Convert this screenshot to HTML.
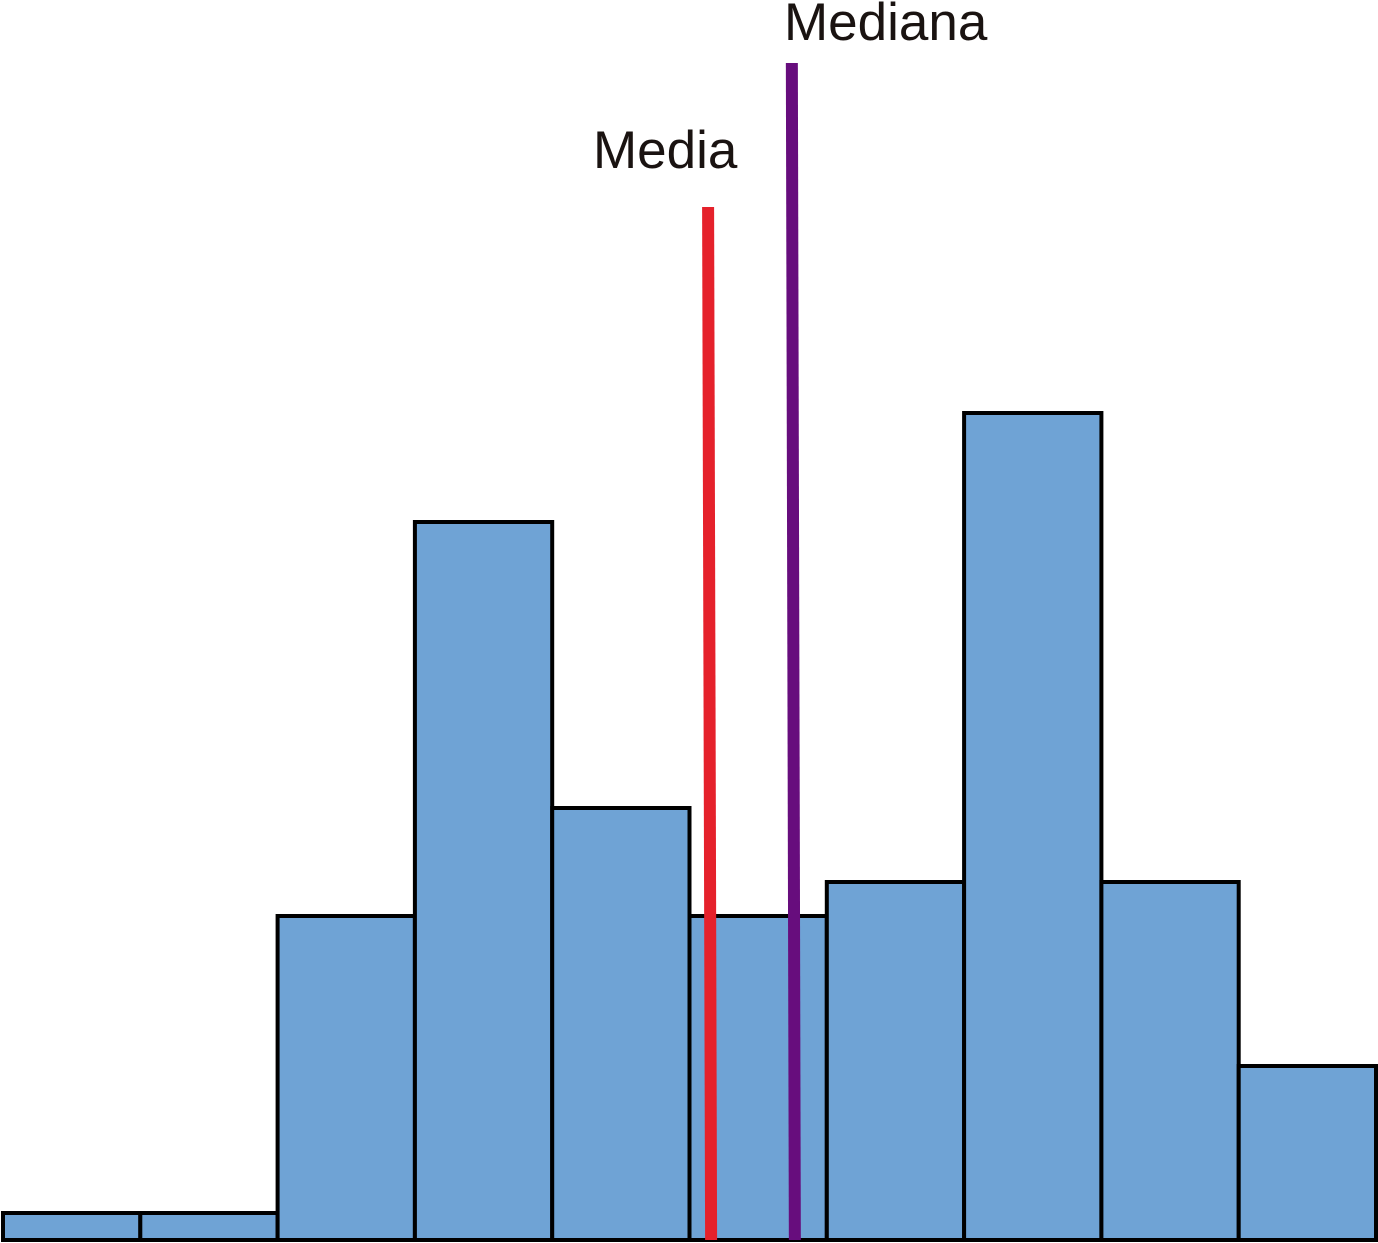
<!DOCTYPE html>
<html><head><meta charset="utf-8"><style>
html,body{margin:0;padding:0;background:#fff;width:1378px;height:1243px;overflow:hidden}
svg{display:block}
text{font-family:"Liberation Sans",Arial,sans-serif;font-size:53px;fill:#1a1311}
</style></head><body>
<svg id="chart" width="1378" height="1243" viewBox="0 0 1378 1243" xmlns="http://www.w3.org/2000/svg">
<g id="bars"></g>
<g id="markers"></g>
</svg>
<script>
const binEdges = [0,1,2,3,4,5,6,7,8,9,10];
const counts = [27,27,324,718,432,324,358,827,358,174];
const meanValue = 5.15;
const medianValue = 5.76;
const markerLabels = ["Media","Mediana"];

const X0 = 3, X1 = 1376, Y0 = 1240, PX_PER_UNIT = 1;
function xs(v){return X0 + (v - binEdges[0]) / (binEdges[binEdges.length-1] - binEdges[0]) * (X1 - X0);}
function ys(v){return Y0 - v * PX_PER_UNIT;}
const NS = "http://www.w3.org/2000/svg";
const gb = document.getElementById('bars');
counts.forEach((c,i)=>{
  const r = document.createElementNS(NS,'rect');
  const x = xs(binEdges[i]), w = xs(binEdges[i+1]) - x;
  r.setAttribute('x', x); r.setAttribute('y', ys(c));
  r.setAttribute('width', w); r.setAttribute('height', Y0 - ys(c));
  r.setAttribute('fill', '#6fa3d5'); r.setAttribute('stroke', '#000'); r.setAttribute('stroke-width', '4');
  
  
  gb.appendChild(r);
});
const gm = document.getElementById('markers');
function marker(v, topY, color, label, lx, ly, name){
  const l = document.createElementNS(NS,'line');
  l.setAttribute('x1', xs(v) - 2); l.setAttribute('x2', xs(v) + 1);
  l.setAttribute('y1', topY); l.setAttribute('y2', Y0);
  l.setAttribute('stroke', color); l.setAttribute('stroke-width', '12');
  
  
  gm.appendChild(l);
  const t = document.createElementNS(NS,'text');
  t.setAttribute('x', lx); t.setAttribute('y', ly);
  t.textContent = label;
  
  
  gm.appendChild(t);
}
marker(meanValue, 207, '#e5212b', markerLabels[0], 593, 168, 'mean');
marker(medianValue, 63, '#670d7d', markerLabels[1], 784, 40, 'median');
</script>
</body></html>
